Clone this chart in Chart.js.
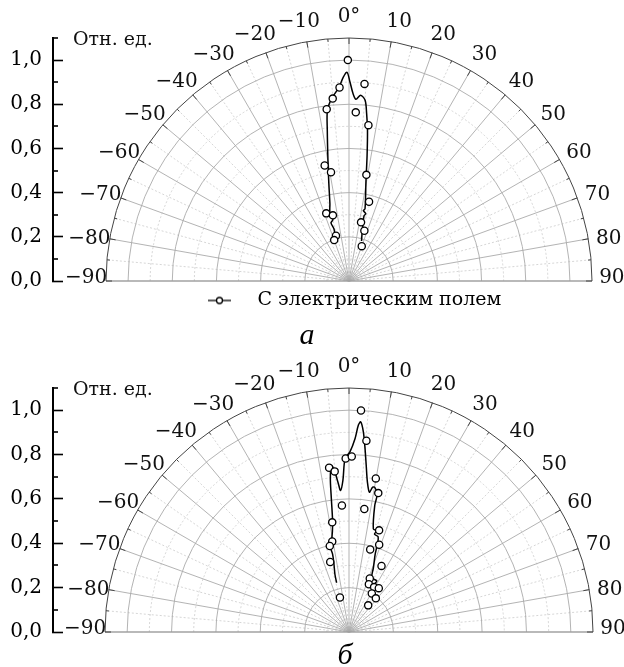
<!DOCTYPE html>
<html><head><meta charset="utf-8">
<script src="https://cdn.jsdelivr.net/npm/chart.js@4.4.0/dist/chart.umd.min.js"></script>
<style>
html,body{margin:0;padding:0;background:#fff;width:624px;height:667px;overflow:hidden;}
.wrap{position:absolute;left:0;width:624px;}
#w1{top:0;height:321px;}
#w2{top:350px;height:315px;}
.cap{position:absolute;font-family:"Liberation Serif",serif;font-style:italic;font-size:30px;line-height:30px;color:#000;transform:translateX(-50%);}
</style></head><body>
<div id="w1" class="wrap"><canvas id="c1"></canvas></div>
<div class="cap" style="left:307px;top:319px;">а</div>
<div id="w2" class="wrap"><canvas id="c2"></canvas></div>
<div class="cap" style="left:345px;top:639px;">б</div>
<script>
// ---- axes ----
const angleTicks = [-90,-80,-70,-60,-50,-40,-30,-20,-10,0,10,20,30,40,50,60,70,80,90];
const radialTicks = [0,0.2,0.4,0.6,0.8,1.0];
const radialMinorTicks = [0.1,0.3,0.5,0.7,0.9,1.1];
const radialMax = 1.1;
const axisTitle = 'Отн. ед.';
const seriesLabel = 'С электрическим полем';

// ---- chart а : measured points (angle, deg / relative value) ----
const aPointAngles = [-0.3, 4.5, -2.8, -5.1, -7.4, 2.3, 7.1, -11.9, -9.4, 9.3, 14.2, -18.6, -13.8, 11.6, 17.0, -16.1, -19.9, 20.1];
const aPointValues = [1.00, 0.895, 0.877, 0.829, 0.784, 0.764, 0.711, 0.534, 0.499, 0.487, 0.370, 0.323, 0.306, 0.271, 0.238, 0.213, 0.197, 0.168];
// chart а : curve
const aLineAngles = [-16.9, -16.1, -17.2, -14.7, -15.6, -13.9, -11.7, -9.9, -8.2, -7.2, -5.4, -3.0, -1.6, -0.55, 0.3, 1.2, 2.2, 3.6, 5.1, 6.0, 7.0, 8.2, 9.6, 12.5, 11.5, 14.0, 13.0, 13.6, 15.2, 17.4];
const aLineValues = [0.219, 0.246, 0.276, 0.287, 0.321, 0.36, 0.45, 0.554, 0.689, 0.779, 0.83, 0.877, 0.923, 0.945, 0.90, 0.85, 0.823, 0.843, 0.821, 0.763, 0.687, 0.574, 0.461, 0.335, 0.325, 0.314, 0.303, 0.271, 0.226, 0.19];

// ---- chart б ----
const bPointAngles = [3.1, 5.2, -1.1, 0.9, -6.9, -5.1, 9.9, 11.9, -3.2, 7.1, -8.7, 16.5, -10.5, -12.6, 19.1, 14.4, -15.0, 26.2, 21.2, 22.6, 29.2, 34.2, 30.6, 38.6, -14.7, 35.8];
const bPointValues = [1.0, 0.866, 0.782, 0.791, 0.746, 0.727, 0.703, 0.640, 0.571, 0.559, 0.500, 0.478, 0.415, 0.397, 0.416, 0.384, 0.327, 0.332, 0.259, 0.233, 0.232, 0.239, 0.202, 0.194, 0.161, 0.148];
const bLineAngles = [-14.1, -13.7, -12.5, -11.9, -12.5, -10.8, -8.6, -7.6, -7.0, -6.3, -5.9, -5.0, -4.2, -3.4, -2.3, -1.3, 0.3, 1.8, 2.6, 3.2, 4.1, 5.0, 5.9, 7.0, 8.3, 9.3, 10.1, 11.6, 11.5, 13.3, 15.4, 14.6, 17.0, 17.9, 18.6, 20.8, 22.8, 28.6, 27.7, 32.6];
const bLineValues = [0.229, 0.268, 0.313, 0.359, 0.398, 0.419, 0.493, 0.598, 0.689, 0.747, 0.755, 0.723, 0.676, 0.639, 0.684, 0.782, 0.812, 0.873, 0.934, 0.949, 0.905, 0.830, 0.755, 0.681, 0.637, 0.662, 0.662, 0.636, 0.582, 0.477, 0.474, 0.456, 0.449, 0.417, 0.370, 0.310, 0.266, 0.262, 0.234, 0.219];

const FONT = '"DejaVu Serif", serif';
const CENTER_X = 349; // pixel column of the polar origin
const toRad = d => d * Math.PI / 180;
function toXY(angles, values) {
  return angles.map((a, i) => ({ x: values[i] * Math.sin(toRad(a)), y: values[i] * Math.cos(toRad(a)) }));
}
function fmtAngle(a) { return a === 0 ? '0°' : (a < 0 ? '\u2212' + Math.abs(a) : String(a)); }

const polarPlugin = {
  id: 'polarGrid',
  afterInit(chart) {
    const lg = chart.legend;
    if (lg && chart.options.plugins.legend.display) {
      const f = lg.fit; lg.fit = function () { f.call(this); this.height = 40; };
    }
  },
  afterLayout(chart) {
    // keep 1:1 aspect for the polar plane: derive x range from y pixel scale
    const xs = chart.scales.x, ys = chart.scales.y, ca = chart.chartArea;
    const u = (ys.bottom - ys.top) / (ys.max - ys.min);
    xs.options.min = -(CENTER_X - ca.left) / u;
    xs.options.max = (ca.right - CENTER_X) / u;
    xs.min = xs.options.min; xs.max = xs.options.max;
    xs.configure();
  },
  beforeDatasetsDraw(chart) {
    const { ctx, scales: { x, y } } = chart;
    const cx = x.getPixelForValue(0), cy = y.getPixelForValue(0);
    const u = y.getPixelForValue(0) - y.getPixelForValue(1);
    const R = radialMax * u;
    ctx.save();
    // minor (dashed) rings & spokes
    ctx.setLineDash([2, 2]); ctx.strokeStyle = '#cccccc'; ctx.lineWidth = 0.8;
    radialMinorTicks.filter(r => r < radialMax).forEach(r => {
      ctx.beginPath(); ctx.arc(cx, cy, r * u, Math.PI, 2 * Math.PI); ctx.stroke();
    });
    for (let i = 0; i < angleTicks.length - 1; i++) {
      const a = (angleTicks[i] + angleTicks[i + 1]) / 2;
      ctx.beginPath(); ctx.moveTo(cx, cy);
      ctx.lineTo(cx + R * Math.sin(toRad(a)), cy - R * Math.cos(toRad(a))); ctx.stroke();
    }
    ctx.setLineDash([]);
    // major rings & spokes
    ctx.strokeStyle = '#aaaaaa'; ctx.lineWidth = 0.9;
    radialTicks.filter(r => r > 0).forEach(r => {
      ctx.beginPath(); ctx.arc(cx, cy, r * u, Math.PI, 2 * Math.PI); ctx.stroke();
    });
    angleTicks.forEach(a => {
      ctx.beginPath(); ctx.moveTo(cx, cy);
      ctx.lineTo(cx + R * Math.sin(toRad(a)), cy - R * Math.cos(toRad(a))); ctx.stroke();
    });
    // baseline
    ctx.strokeStyle = '#999'; ctx.lineWidth = 1;
    ctx.beginPath(); ctx.moveTo(cx - R, cy); ctx.lineTo(cx + R, cy); ctx.stroke();
    // outer arc
    ctx.strokeStyle = '#444'; ctx.lineWidth = 1;
    ctx.beginPath(); ctx.arc(cx, cy, R, Math.PI, 2 * Math.PI); ctx.stroke();
    // arc tick marks
    for (let i = 0; i < angleTicks.length; i++) {
      const a = angleTicks[i];
      const s = Math.sin(toRad(a)), c = Math.cos(toRad(a));
      ctx.beginPath(); ctx.moveTo(cx + R * s, cy - R * c); ctx.lineTo(cx + (R - 6) * s, cy - (R - 6) * c); ctx.stroke();
      if (i < angleTicks.length - 1) {
        const m = (a + angleTicks[i + 1]) / 2, s2 = Math.sin(toRad(m)), c2 = Math.cos(toRad(m));
        ctx.beginPath(); ctx.moveTo(cx + R * s2, cy - R * c2); ctx.lineTo(cx + (R - 3) * s2, cy - (R - 3) * c2); ctx.stroke();
      }
    }
    ctx.restore();
  },
  afterDraw(chart) {
    const { ctx, scales: { x, y }, chartArea } = chart;
    const cx = x.getPixelForValue(0), cy = y.getPixelForValue(0);
    const u = y.getPixelForValue(0) - y.getPixelForValue(1);
    const RL = 1.19 * u;
    ctx.save();
    ctx.fillStyle = '#111'; ctx.font = '20px ' + FONT;
    ctx.textAlign = 'center'; ctx.textBaseline = 'middle';
    angleTicks.forEach(a => {
      const la = Math.abs(a) === 90 ? a - Math.sign(a) * 0.5 : a + Math.sign(a) * 1;
      ctx.fillText(fmtAngle(a), cx + RL * Math.sin(toRad(la)), cy - RL * Math.cos(toRad(la)) - 1);
    });
    // minor ticks on radial value axis
    ctx.strokeStyle = '#000'; ctx.lineWidth = 1.6;
    radialMinorTicks.forEach(v => {
      const py = Math.round(y.getPixelForValue(v));
      ctx.beginPath(); ctx.moveTo(chartArea.left, py); ctx.lineTo(chartArea.left + 5, py); ctx.stroke();
    });
    ctx.textAlign = 'left'; ctx.font = '19px ' + FONT;
    ctx.fillText(axisTitle, chartArea.left + 20, y.getPixelForValue(radialMax) + 2);
    ctx.restore();
  }
};

function legendImage() {
  const c = document.createElement('canvas'); c.width = 238; c.height = 12;
  const g = c.getContext('2d');
  g.strokeStyle = '#000'; g.lineWidth = 1.3;
  g.beginPath(); g.moveTo(198, 6); g.lineTo(221, 6); g.stroke();
  g.beginPath(); g.arc(209.5, 6, 3, 0, 2 * Math.PI); g.fillStyle = '#fff'; g.fill(); g.stroke();
  return c;
}

function makeChart(id, pa, pv, la, lv, withLegend) {
  return new Chart(document.getElementById(id), {
    type: 'scatter',
    data: {
      datasets: [
        { label: seriesLabel, data: toXY(pa, pv), showLine: false, pointRadius: 3.6, pointHoverRadius: 3.6,
          pointBackgroundColor: '#fff', pointBorderColor: '#000', pointBorderWidth: 1.3, order: 0 },
        { label: seriesLabel + ' (кривая)', data: toXY(la, lv), showLine: true, borderColor: '#000', borderWidth: 1.5,
          pointRadius: 0, tension: 0.3, fill: false, order: 1 }
      ]
    },
    options: {
      responsive: true, maintainAspectRatio: false, animation: false, devicePixelRatio: 1,
      layout: { padding: { left: 0, right: 10, top: 38, bottom: 0 } },
      scales: {
        x: { type: 'linear', min: -1.34, max: 1.2, display: false },
        y: {
          type: 'linear', min: 0, max: radialMax, position: 'left',
          afterFit: s => { s.width = 53; },
          afterBuildTicks: s => { s.ticks = radialTicks.map(v => ({ value: v })); },
          grid: { drawOnChartArea: false, tickLength: -10, tickColor: '#000', tickWidth: 1.6 },
          border: { color: '#000', width: 2 },
          ticks: { padding: 21, color: '#000', font: { family: FONT, size: 20 },
                   callback: v => Number(v).toFixed(1).replace('.', ',') }
        }
      },
      plugins: {
        tooltip: { enabled: false },
        legend: {
          display: withLegend, position: 'bottom', align: 'start',
          labels: {
            usePointStyle: true, pointStyleWidth: 238, padding: 10, color: '#000',
            font: { family: FONT, size: 19 },
            generateLabels: () => [{ text: seriesLabel, pointStyle: legendImage(), fillStyle: '#fff',
              strokeStyle: '#000', lineWidth: 0, hidden: false, datasetIndex: 0, fontColor: '#000' }]
          }
        }
      }
    },
    plugins: [polarPlugin]
  });
}

makeChart('c1', aPointAngles, aPointValues, aLineAngles, aLineValues, true);
makeChart('c2', bPointAngles, bPointValues, bLineAngles, bLineValues, false);
</script>
</body></html>
